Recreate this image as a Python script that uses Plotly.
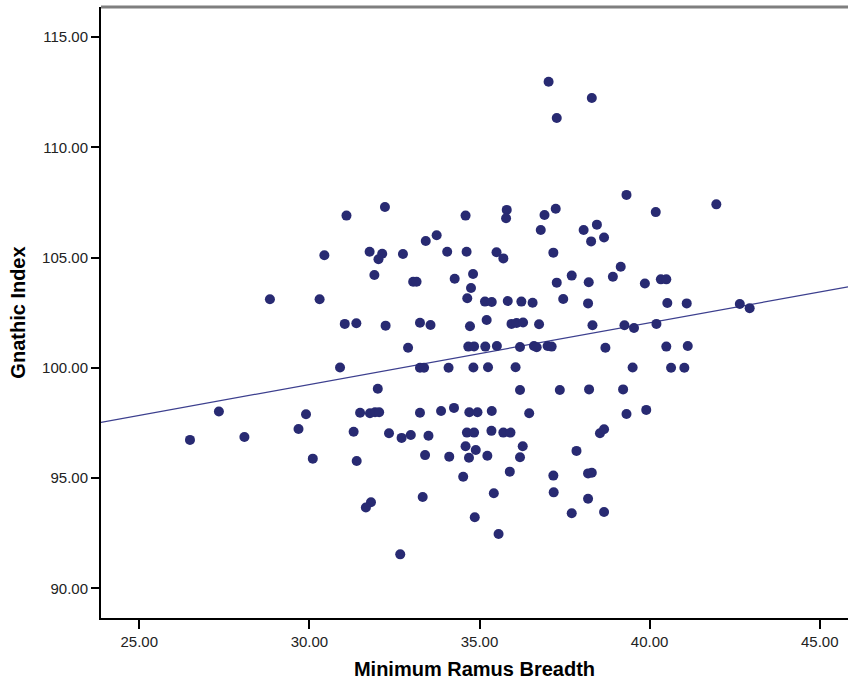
import numpy as np
import plotly.graph_objects as go

# Minimum ramus breadth (x) and gnathic index (y) for each specimen
ramus_breadth = [
    26.49, 27.34, 28.09, 29.68, 29.90, 28.84, 30.30, 30.44, 31.09, 31.04,
    30.90, 32.22, 34.59, 33.74, 33.42, 31.77, 32.14, 32.03, 32.75, 34.05,
    34.62, 31.91, 33.05, 33.15, 34.27, 34.81, 34.75, 34.64, 31.38, 32.24,
    33.25, 33.56, 34.72, 32.90, 34.67, 34.84, 33.25, 33.37, 34.09, 34.82,
    32.01, 31.49, 31.78, 31.93, 32.05, 33.25, 33.87, 34.25, 34.70, 34.94,
    31.30, 32.34, 32.71, 32.98, 33.50, 34.63, 34.84, 34.59, 34.89, 30.10,
    31.39, 33.40, 34.11, 34.69, 34.52, 31.81, 31.66, 33.33, 34.86, 32.67,
    37.03, 38.30, 37.27, 39.32, 40.18, 35.80, 35.78, 36.91, 37.24, 36.80,
    38.06, 38.45, 38.28, 38.66, 35.50, 35.70, 37.17, 35.16, 35.36, 35.83,
    36.23, 36.56, 37.27, 37.71, 38.21, 38.92, 39.15, 39.86, 40.33, 40.49,
    37.46, 38.19, 35.21, 35.94, 36.09, 36.28, 36.75, 38.32, 39.26, 39.54,
    40.20, 35.17, 35.51, 36.19, 36.60, 36.68, 37.00, 37.12, 38.70, 35.25,
    36.06, 39.50, 36.19, 37.36, 38.22, 39.22, 35.36, 36.46, 39.32, 39.90,
    35.35, 35.70, 35.91, 38.54, 38.66, 35.23, 36.27, 36.19, 37.85, 35.89,
    37.17, 38.19, 38.30, 35.42, 37.18, 38.19, 37.71, 38.66, 35.56, 41.96,
    40.52, 41.09, 42.65, 42.94, 40.49, 41.12, 40.63, 41.02,
]
gnathic_index = [
    96.73, 98.02, 96.86, 97.22, 97.89, 103.11, 103.11, 105.10, 106.90, 101.99,
    100.01, 107.29, 106.90, 106.01, 105.75, 105.26, 105.17, 104.92, 105.16, 105.26,
    105.26, 104.21, 103.90, 103.90, 104.04, 104.25, 103.62, 103.15, 102.02, 101.91,
    102.04, 101.94, 101.88, 100.91, 100.96, 100.97, 100.00, 100.00, 100.00, 100.01,
    99.05, 97.96, 97.94, 97.98, 97.98, 97.96, 98.04, 98.18, 97.98, 97.98,
    97.10, 97.03, 96.82, 96.95, 96.92, 97.06, 97.06, 96.44, 96.27, 95.88,
    95.77, 96.04, 95.97, 95.92, 95.06, 93.90, 93.66, 94.14, 93.22, 91.54,
    112.97, 112.23, 111.33, 107.84, 107.06, 107.16, 106.78, 106.93, 107.21, 106.25,
    106.25, 106.49, 105.73, 105.91, 105.24, 104.96, 105.22, 103.00, 102.98, 103.03,
    103.00, 102.95, 103.86, 104.18, 103.88, 104.13, 104.58, 103.82, 104.01, 104.01,
    103.12, 102.92, 102.17, 101.99, 102.03, 102.05, 101.97, 101.93, 101.93, 101.80,
    101.99, 100.96, 100.99, 100.94, 100.99, 100.93, 100.99, 100.96, 100.91, 100.02,
    100.02, 100.01, 98.99, 98.99, 99.02, 99.02, 98.04, 97.94, 97.90, 98.09,
    97.14, 97.06, 97.06, 97.03, 97.21, 96.01, 96.44, 95.94, 96.23, 95.29,
    95.11, 95.21, 95.24, 94.31, 94.35, 94.06, 93.40, 93.46, 92.46, 107.41,
    102.94, 102.92, 102.89, 102.70, 100.96, 100.99, 100.00, 100.00,
]

x_ticks = [25, 30, 35, 40, 45]
x_tick_labels = ["25.00", "30.00", "35.00", "40.00", "45.00"]
y_ticks = [90, 95, 100, 105, 110, 115]
y_tick_labels = ["90.00", "95.00", "100.00", "105.00", "110.00", "115.00"]

x_range = [23.875, 45.83]
y_range = [88.653, 116.36]

# Least-squares fit line across the full x range
slope, intercept = np.polyfit(ramus_breadth, gnathic_index, 1)
fit_x = np.array(x_range)
fit_y = intercept + slope * fit_x

point_color = "#282a72"
line_color = "#3c3f8e"
font_family = "Arial, Liberation Sans, sans-serif"

fig = go.Figure()
fig.add_trace(go.Scatter(
    x=fit_x, y=fit_y, mode="lines",
    line=dict(color=line_color, width=1.2),
    hoverinfo="skip", showlegend=False,
))
fig.add_trace(go.Scatter(
    x=ramus_breadth, y=gnathic_index, mode="markers",
    marker=dict(color=point_color, size=10, line=dict(width=0)),
    showlegend=False,
))

axis_common = dict(
    showgrid=False, zeroline=False, showline=True,
    linecolor="black", linewidth=2,
    ticks="outside", tickcolor="black", tickwidth=1.5,
    tickfont=dict(family=font_family, size=15, color="#222222"),
)

fig.update_xaxes(
    range=x_range, tickvals=x_ticks, ticktext=x_tick_labels, ticklen=9,
    title=dict(text="<b>Minimum Ramus Breadth</b>", standoff=13,
               font=dict(family=font_family, size=20, color="black")),
    **axis_common,
)
fig.update_yaxes(
    range=y_range, tickvals=y_ticks, ticktext=y_tick_labels, ticklen=8,
    title=dict(text="<b>Gnathic Index</b>", standoff=11,
               font=dict(family=font_family, size=20, color="black")),
    **axis_common,
)

# Grey frame line along the top of the plotting area
fig.add_shape(type="line", xref="paper", yref="paper", x0=0, x1=1, y0=1, y1=1,
              line=dict(color="#7f7f7f", width=3))

fig.update_layout(
    width=848, height=684,
    margin=dict(l=101, r=0, t=7, b=66),
    paper_bgcolor="white", plot_bgcolor="white",
)

fig.write_html("out.html")
